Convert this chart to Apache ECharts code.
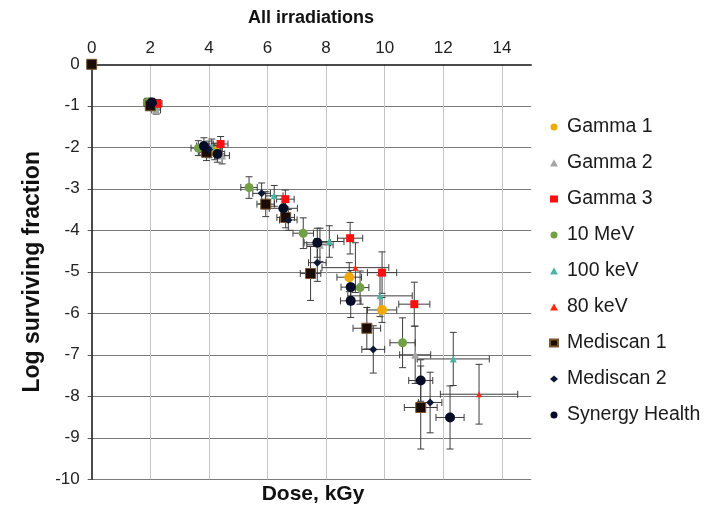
<!DOCTYPE html>
<html>
<head>
<meta charset="utf-8">
<script src="https://cdn.jsdelivr.net/npm/echarts@6/dist/echarts.min.js"></script>
<style>html,body{margin:0;padding:0;background:#fff;}#c{width:722px;height:508px;}</style>
</head>
<body>
<div id="c"></div>
<script>
// ---- data ----
const seriesNames = ['Gamma 1','Gamma 2','Gamma 3','10 MeV','100 keV','80 keV','Mediscan 1','Mediscan 2','Synergy Health'];
const xTicks = [0,2,4,6,8,10,12,14];
const yTicks = [0,-1,-2,-3,-4,-5,-6,-7,-8,-9,-10];

const gamma1X = [2.1, 4.2, 8.79, 9.91];
const gamma1Y = [-1.0, -2.1, -5.13, -5.92];
const gamma1XErr = [0.15, 0.25, 0.42, 0.5];
const gamma1YErr = [0.1, 0.2, 0.35, 0.3];

const gamma2X = [2.2, 4.45, 7.79, 11.04];
const gamma2Y = [-1.1, -2.2, -4.35, -7.0];
const gamma2XErr = [0.15, 0.25, 0.45, 0.53];
const gamma2YErr = [0.1, 0.2, 0.4, 0.69];

const gamma3X = [2.25, 4.40, 6.61, 8.82, 9.91, 11.01];
const gamma3Y = [-0.95, -1.92, -3.25, -4.19, -5.02, -5.78];
const gamma3XErr = [0.15, 0.25, 0.3, 0.43, 0.5, 0.53];
const gamma3YErr = [0.1, 0.18, 0.22, 0.38, 0.5, 0.53];

const mev10X = [1.9, 3.64, 5.37, 7.22, 9.16, 10.61];
const mev10Y = [-0.92, -2.02, -2.97, -4.07, -5.38, -6.71];
const mev10XErr = [0.12, 0.25, 0.28, 0.35, 0.3, 0.43];
const mev10YErr = [0.1, 0.18, 0.26, 0.37, 0.4, 0.6];

const kev100X = [1.95, 4.1, 6.23, 8.11, 9.84, 12.34];
const kev100Y = [-0.92, -2.0, -3.17, -4.27, -5.58, -7.10];
const kev100XErr = [0.12, 0.25, 0.3, 0.5, 1.1, 1.23];
const kev100YErr = [0.1, 0.2, 0.25, 0.38, 0.5, 0.64];

const kev80X = [9.0, 13.22];
const kev80Y = [-4.90, -7.95];
const kev80XErr = [1.14, 1.32];
const kev80YErr = [0.6, 0.72];

const medi1X = [0, 2.0, 3.92, 5.94, 6.62, 7.47, 9.39, 11.23];
const medi1Y = [0, -1.0, -2.12, -3.37, -3.69, -5.04, -6.36, -8.27];
const medi1XErr = [0, 0.12, 0.25, 0.3, 0.3, 0.35, 0.47, 0.56];
const medi1YErr = [0, 0.1, 0.2, 0.3, 0.25, 0.65, 0.5, 1.0];

const medi2X = [2.1, 4.0, 5.80, 6.71, 7.70, 9.61, 11.55];
const medi2Y = [-0.95, -2.05, -3.11, -3.75, -4.78, -6.87, -8.15];
const medi2XErr = [0.12, 0.25, 0.3, 0.3, 0.3, 0.39, 0.4];
const medi2YErr = [0.1, 0.2, 0.25, 0.25, 0.45, 0.57, 0.73];

const synX = [2.05, 3.83, 4.29, 6.54, 7.70, 8.84, 8.84, 11.23, 12.23];
const synY = [-0.92, -1.97, -2.16, -3.47, -4.30, -5.37, -5.70, -7.62, -8.51];
const synXErr = [0.12, 0.25, 0.25, 0.48, 0.45, 0.33, 0.35, 0.41, 0.48];
const synYErr = [0.1, 0.2, 0.2, 0.22, 0.35, 0.4, 0.4, 0.5, 0.76];

// ---- build ----
const groups = [
  {name:'Gamma 1', x:gamma1X, y:gamma1Y, ex:gamma1XErr, ey:gamma1YErr, symbol:'circle', size:10, color:'#EFA900'},
  {name:'Gamma 2', x:gamma2X, y:gamma2Y, ex:gamma2XErr, ey:gamma2YErr, symbol:'triangle', size:8, color:'#A5A5A5'},
  {name:'Gamma 3', x:gamma3X, y:gamma3Y, ex:gamma3XErr, ey:gamma3YErr, symbol:'rect', size:8, color:'#FF0F0F'},
  {name:'10 MeV', x:mev10X, y:mev10Y, ex:mev10XErr, ey:mev10YErr, symbol:'circle', size:9, color:'#72A047'},
  {name:'100 keV', x:kev100X, y:kev100Y, ex:kev100XErr, ey:kev100YErr, symbol:'triangle', size:7, color:'#4BB5A2'},
  {name:'80 keV', x:kev80X, y:kev80Y, ex:kev80XErr, ey:kev80YErr, symbol:'triangle', size:6, color:'#FF2A10'},
  {name:'Mediscan 1', x:medi1X, y:medi1Y, ex:medi1XErr, ey:medi1YErr, symbol:'rect', size:10, color:'#1A0C02', border:'#7A5530'},
  {name:'Mediscan 2', x:medi2X, y:medi2Y, ex:medi2XErr, ey:medi2YErr, symbol:'diamond', size:8, color:'#0C1833'},
  {name:'Synergy Health', x:synX, y:synY, ex:synXErr, ey:synYErr, symbol:'circle', size:10, color:'#060B26'}
];

function renderErr(params, api) {
  const x = api.value(0), y = api.value(1), ex = api.value(2), ey = api.value(3);
  const style = {stroke:'#3c3c3c', lineWidth:1, fill:null};
  const cap = 3.5;
  const children = [];
  if (ex > 0) {
    const l = api.coord([x - ex, y]), r = api.coord([x + ex, y]);
    children.push({type:'line', shape:{x1:l[0], y1:l[1], x2:r[0], y2:r[1]}, style});
    children.push({type:'line', shape:{x1:l[0], y1:l[1]-cap, x2:l[0], y2:l[1]+cap}, style});
    children.push({type:'line', shape:{x1:r[0], y1:r[1]-cap, x2:r[0], y2:r[1]+cap}, style});
  }
  if (ey > 0) {
    const t = api.coord([x, y + ey]), b = api.coord([x, y - ey]);
    children.push({type:'line', shape:{x1:t[0], y1:t[1], x2:b[0], y2:b[1]}, style});
    children.push({type:'line', shape:{x1:t[0]-cap, y1:t[1], x2:t[0]+cap, y2:t[1]}, style});
    children.push({type:'line', shape:{x1:b[0]-cap, y1:b[1], x2:b[0]+cap, y2:b[1]}, style});
  }
  return {type:'group', children};
}

const series = [];
groups.forEach(g => {
  series.push({
    name: g.name + ' err', type:'custom', renderItem: renderErr, z:2, silent:true,
    data: g.x.map((v,i) => [v, g.y[i], g.ex[i], g.ey[i]]),
    encode:{x:0, y:1}
  });
});
groups.forEach(g => {
  series.push({
    name: g.name, type:'scatter', symbol:g.symbol, symbolSize:g.size, z:3,
    itemStyle:{color:g.color, opacity:1, borderColor:g.border || g.color, borderWidth:g.border ? 1 : 0},
    data: g.x.map((v,i) => [v, g.y[i]])
  });
});

const chart = echarts.init(document.getElementById('c'), null, {renderer:'canvas'});
chart.setOption({
  animation:false,
  backgroundColor:'#fff',
  textStyle:{fontFamily:'Liberation Sans, Arial, sans-serif'},
  grid:{left:91.7, top:64.3, width:439.5, height:415, containLabel:false},
  xAxis:{
    type:'value', position:'top', min:0, max:15, interval:2,
    axisLine:{show:true, onZero:false, lineStyle:{color:'#111', width:1.5}},
    axisTick:{show:false},
    axisLabel:{show:true, fontSize:17, color:'#222', margin:7, showMaxLabel:false,
      formatter: v => xTicks.indexOf(v) >= 0 ? String(v) : ''},
    splitLine:{show:true, showMinLine:false, showMaxLine:false, lineStyle:{color:'#c4c4c4', width:1}}
  },
  yAxis:{
    type:'value', min:-10, max:0, interval:1,
    axisLine:{show:true, onZero:false, lineStyle:{color:'#111', width:1.5}},
    axisTick:{show:true, length:4, inside:false, lineStyle:{color:'#555'}},
    axisLabel:{fontSize:17, color:'#222', margin:12,
      formatter: v => yTicks.indexOf(v) >= 0 ? String(v) : ''},
    splitLine:{show:true, showMaxLine:false, lineStyle:{color:'#7a7a7a', width:1}},
    name:'Log surviving fraction', nameLocation:'middle', nameRotate:90, nameGap:46,
    nameTextStyle:{fontSize:23, fontWeight:'bold', color:'#111'}
  },
  legend:{
    orient:'vertical', left:544, top:111,
    data: seriesNames,
    itemWidth:8, itemHeight:7, itemGap:14,
    textStyle:{fontSize:19.5, color:'#1a1a1a', lineHeight:22, padding:[0,0,0,4]},
    selectedMode:false
  },
  graphic:[
    {type:'text', x:311, y:9, style:{text:'All irradiations', font:'bold 18px "Liberation Sans", Arial, sans-serif', fill:'#111', textAlign:'center'}},
    {type:'text', x:313, y:484, style:{text:'Dose, kGy', font:'bold 21px "Liberation Sans", Arial, sans-serif', fill:'#111', textAlign:'center'}}
  ],
  series
});
</script>
</body>
</html>
